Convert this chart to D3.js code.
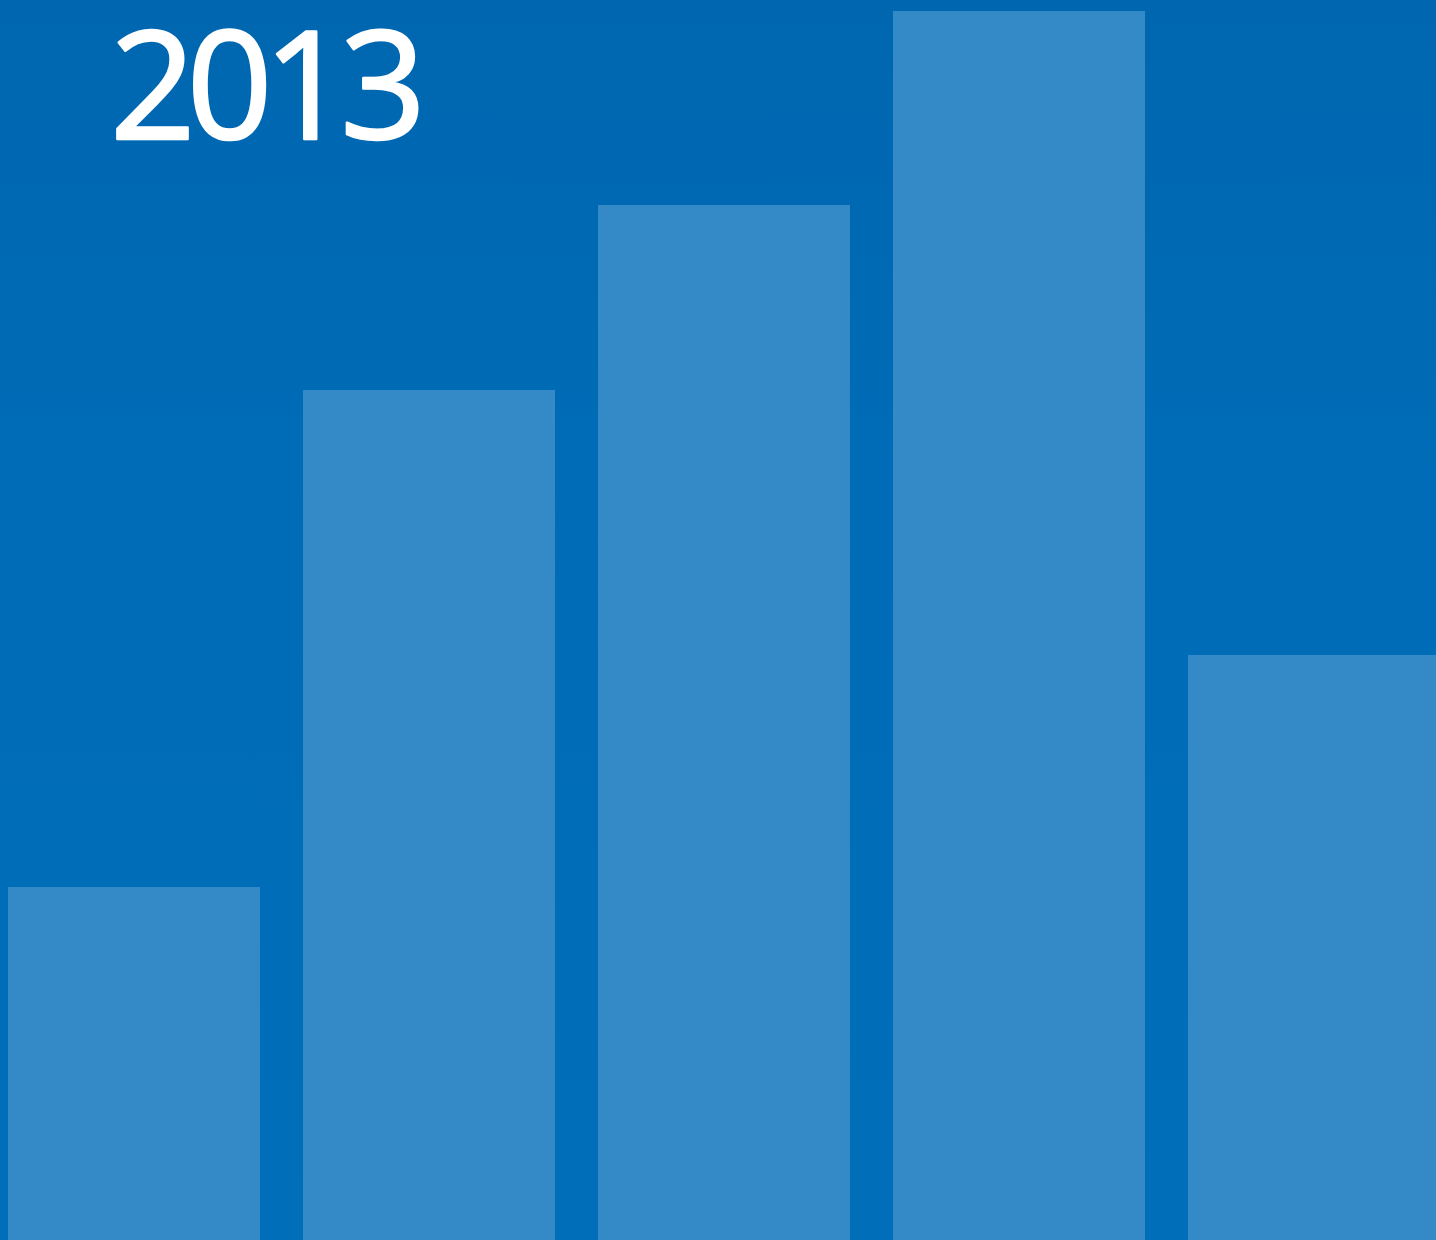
<!DOCTYPE html>
<html><head><meta charset="utf-8">
<script src="https://cdn.jsdelivr.net/npm/d3@7"></script>
<style>html,body{margin:0;padding:0;overflow:hidden;background:#006bb6}</style>
</head><body>
<script>
const categories = ["A","B","C","D","E"];
const values = [353, 850, 1035, 1229, 585];
const title = "2013";

const W = 1436, H = 1240;
const svg = d3.select("body").append("svg").attr("width", W).attr("height", H).style("display","block");
const defs = svg.append("defs");
const g = defs.append("linearGradient").attr("id","bg").attr("x1",0).attr("y1",0).attr("x2",0).attr("y2",1);
g.append("stop").attr("offset","0%").attr("stop-color","#0066b0");
g.append("stop").attr("offset","40%").attr("stop-color","#006cb7");
g.append("stop").attr("offset","100%").attr("stop-color","#006eb9");
svg.append("rect").attr("width",W).attr("height",H).attr("fill","url(#bg)");

const x = d3.scaleBand().domain(categories).range([8, 1440]).paddingInner(43/295).paddingOuter(0);
const y = d3.scaleLinear().domain([0, 1240]).range([H, 0]);

svg.selectAll("rect.bar").data(values).join("rect").attr("class","bar")
  .attr("x",(d,i)=>x(categories[i])).attr("width",x.bandwidth())
  .attr("y",d=>y(d)).attr("height",d=>H-y(d)).attr("fill","#348ac6");

svg.append("text").attr("x",110).attr("y",139).text(title)
  .attr("fill","#fff").attr("stroke","#fff").attr("stroke-width",2.5).attr("stroke-linejoin","round")
  .style("font-family","'Open Sans'").style("font-size","150px")
  .style("letter-spacing","-9px");
</script>
</body></html>
